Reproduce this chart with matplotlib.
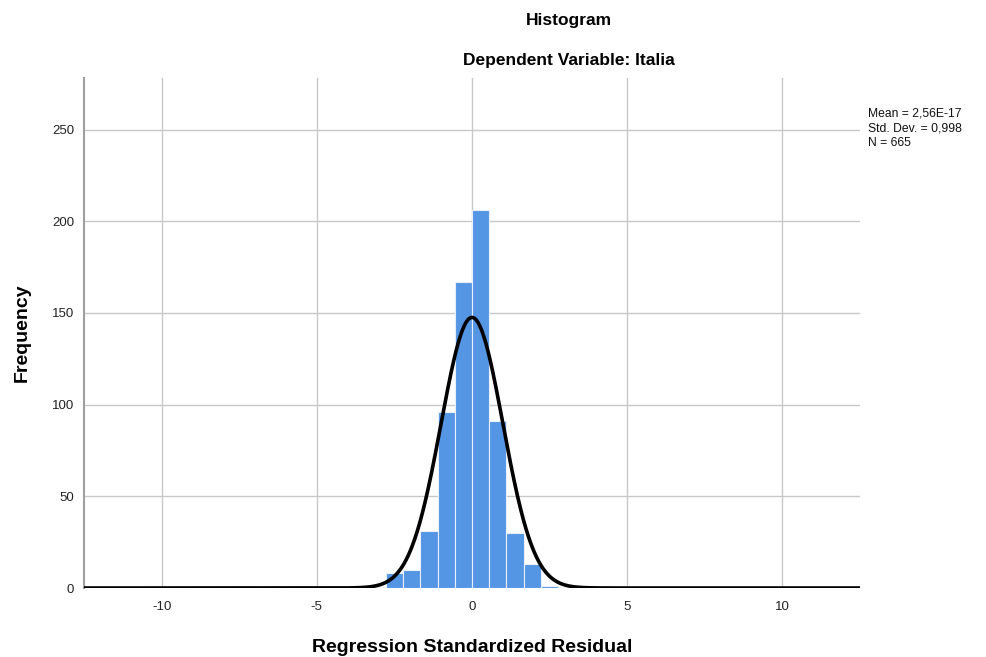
import numpy as np
import matplotlib.pyplot as plt

plt.rcParams['font.family'] = ['Liberation Sans', 'DejaVu Sans']
plt.rcParams['axes.unicode_minus'] = False

# residual histogram: bin edges are multiples of the bin width, counts per bin
bin_width = 0.555
bin_index = [-7, -6, -5, -4, -3, -2, -1, 0, 1, 2, 3, 4, 5, 6, 7]
counts = [1, 0, 8, 10, 31, 96, 167, 206, 91, 30, 13, 1, 0, 1, 1]

mean = 2.56e-17
std_dev = 0.998
n_obs = 665

x_ticks = [-10, -5, 0, 5, 10]
y_ticks = [0, 50, 100, 150, 200, 250]

fig = plt.figure(figsize=(9.86, 6.57), dpi=100)
ax = fig.add_axes([0.0852, 0.105, 0.787, 0.776])

left_edges = np.array(bin_index) * bin_width
ax.bar(left_edges, counts, width=bin_width, align='edge',
       color='#5596e4', edgecolor='#e8eefa', linewidth=0.8, zorder=2)

# normal curve scaled to the counts
xs = np.linspace(-12.5, 12.5, 1200)
pdf = np.exp(-0.5 * ((xs - mean) / std_dev) ** 2) / (std_dev * np.sqrt(2 * np.pi))
ax.plot(xs, n_obs * bin_width * pdf, color='black', lw=2.6, zorder=3,
        solid_capstyle='butt')

ax.set_xlim(-12.5, 12.5)
ax.set_ylim(0, 278)
ax.set_xticks(x_ticks)
ax.set_yticks(y_ticks)
ax.tick_params(length=0, labelsize=9.5, colors='#222222')
ax.tick_params(axis='x', pad=9)
ax.tick_params(axis='y', pad=7)
ax.grid(True, color='#c8c8c8', lw=1.0, zorder=0)
ax.set_axisbelow(True)
for side in ['top', 'right', 'bottom']:
    ax.spines[side].set_visible(False)
ax.spines['left'].set_color('#a0a0a0')
ax.spines['left'].set_linewidth(1.5)

ax.set_xlabel('Regression Standardized Residual', fontsize=14, fontweight='bold',
              labelpad=19)
ax.set_ylabel('Frequency', fontsize=14, fontweight='bold', labelpad=15)

fig.text(569 / 986, 1 - 20 / 657, 'Histogram', ha='center', va='center',
         fontsize=12.5, fontweight='bold')
fig.text(569 / 986, 1 - 61 / 657, 'Dependent Variable: Italia', ha='center',
         va='center', fontsize=12.5, fontweight='bold')

stats_text = 'Mean = 2,56E-17\nStd. Dev. = 0,998\nN = ' + str(n_obs)
fig.text(868 / 986, 1 - 107 / 657, stats_text, ha='left', va='top',
         fontsize=8.7, linespacing=1.35, color='#111111')

fig.savefig('out.png', dpi=100)
